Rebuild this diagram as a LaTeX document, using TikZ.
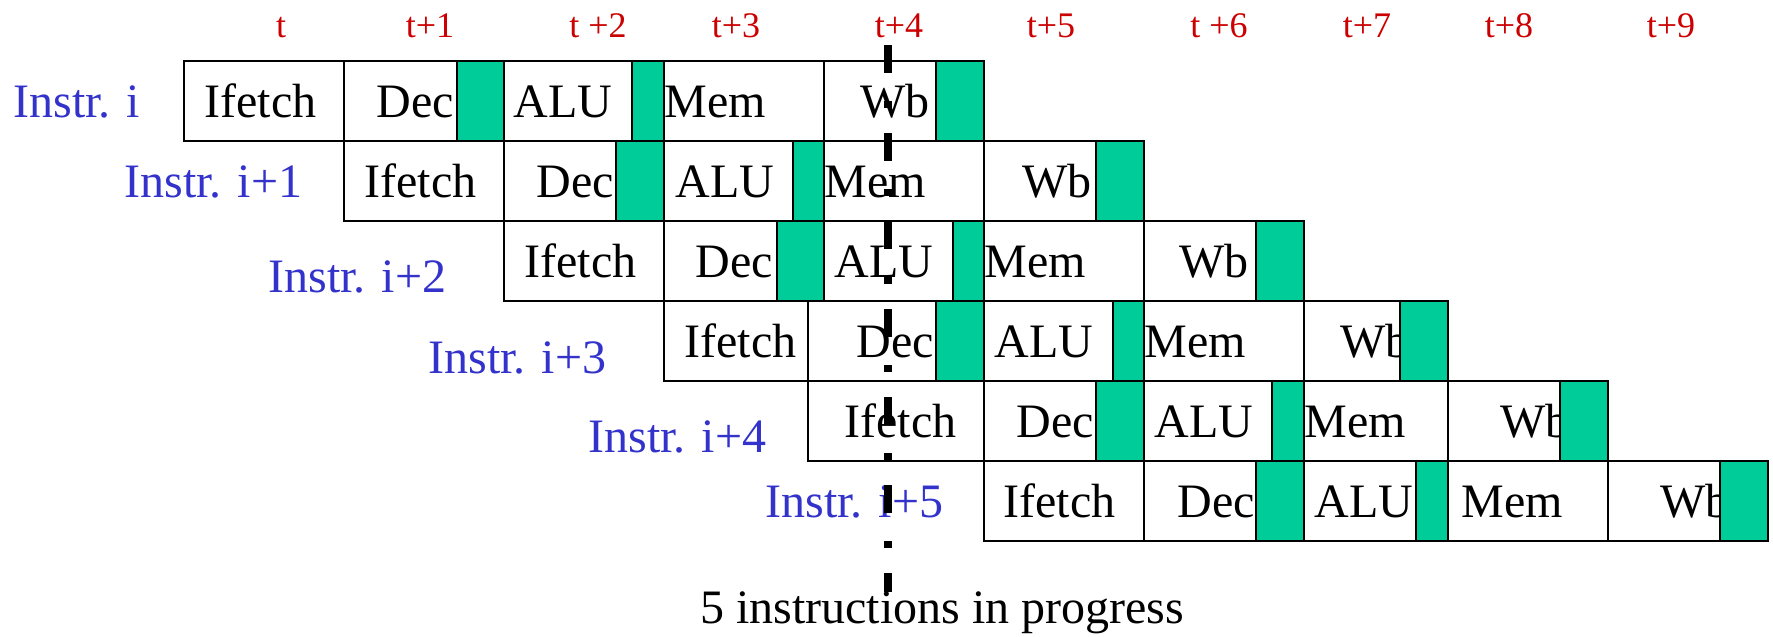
\documentclass[tikz,border=0pt]{standalone}
\usepackage{fontspec}
\setmainfont{Liberation Serif}
\definecolor{pgreen}{RGB}{0,204,153}
\definecolor{pblue}{RGB}{51,51,204}
\definecolor{pred}{RGB}{204,0,0}
\tikzset{
  stagebox/.style={draw=black,line width=1pt,inner sep=0pt,outer sep=0pt,minimum height=40pt},
  latchbox/.style={draw=black,line width=1pt,fill=pgreen,inner sep=0pt,outer sep=0pt,minimum height=40pt},
  stagetext/.style={anchor=base west,inner sep=0pt,font=\fontsize{24}{28}\selectfont},
  instrlabel/.style={anchor=base west,inner sep=0pt,text=pblue,font=\fontsize{24}{28}\selectfont},
  timelabel/.style={anchor=base,inner sep=0pt,text=pred,font=\fontsize{18}{22}\selectfont},
  notelabel/.style={anchor=base,inner sep=0pt,font=\fontsize{24}{28}\selectfont},
  nowline/.style={line width=4pt,dash pattern=on 14pt off 14pt on 3.5pt off 12.5pt}
}
\newcommand{\stg}[6]{%
  \pgfmathsetmacro{\bw}{(#3-#2)*0.5}%
  \node[stagebox,minimum width=\bw pt] (#1) at ({(#2+#3)/2},{#4+40}) {};
  \node[stagetext] (#1t) at (#6,{#4+56}) {#5};
}
\newcommand{\ltch}[4]{%
  \pgfmathsetmacro{\bw}{(#3-#2)*0.5}%
  \node[latchbox,minimum width=\bw pt] (#1) at ({(#2+#3)/2},{#4+40}) {};
}
\begin{document}
\begin{tikzpicture}[x=0.5pt,y=-0.5pt]
\useasboundingbox (0,0) rectangle (1773,637);
% time labels
\node[timelabel] (t0) at (281,37) {t};
\node[timelabel] (t1) at (430,37) {t+1};
\node[timelabel] (t2) at (598,37) {t +2};
\node[timelabel] (t3) at (736,37) {t+3};
\node[timelabel] (t4) at (899,37) {t+4};
\node[timelabel] (t5) at (1051,37) {t+5};
\node[timelabel] (t6) at (1219,37) {t +6};
\node[timelabel] (t7) at (1367,37) {t+7};
\node[timelabel] (t8) at (1509,37) {t+8};
\node[timelabel] (t9) at (1671,37) {t+9};
% instruction labels
\node[instrlabel] (i0) at (13,117) {Instr. i};
\node[instrlabel] (i1) at (124,197) {Instr. i+1};
\node[instrlabel] (i2) at (268,292) {Instr. i+2};
\node[instrlabel] (i3) at (428,373) {Instr. i+3};
\node[instrlabel] (i4) at (588,452) {Instr. i+4};
\node[instrlabel] (i5) at (765,517) {Instr. i+5};
% row 0
\stg{a0}{184}{344}{61}{Ifetch}{204}
\stg{a1}{344}{504}{61}{Dec}{376}
\stg{a2}{504}{664}{61}{ALU}{513}
\stg{a3}{664}{824}{61}{Mem}{664}
\stg{a4}{824}{984}{61}{Wb}{860}
\ltch{ag1}{457}{504}{61}
\ltch{ag2}{632}{664}{61}
\ltch{ag4}{936}{984}{61}
% row 1
\stg{b0}{344}{504}{141}{Ifetch}{364}
\stg{b1}{504}{664}{141}{Dec}{536}
\stg{b2}{664}{824}{141}{ALU}{675}
\stg{b3}{824}{984}{141}{Mem}{824}
\stg{b4}{984}{1144}{141}{Wb}{1022}
\ltch{bg1}{616}{664}{141}
\ltch{bg2}{793}{824}{141}
\ltch{bg4}{1096}{1144}{141}
% row 2
\stg{c0}{504}{664}{221}{Ifetch}{524}
\stg{c1}{664}{824}{221}{Dec}{695}
\stg{c2}{824}{984}{221}{ALU}{834}
\stg{c3}{984}{1144}{221}{Mem}{984}
\stg{c4}{1144}{1304}{221}{Wb}{1179}
\ltch{cg1}{777}{824}{221}
\ltch{cg2}{953}{984}{221}
\ltch{cg4}{1256}{1304}{221}
% row 3
\stg{d0}{664}{808}{301}{Ifetch}{684}
\stg{d1}{808}{984}{301}{Dec}{856}
\stg{d2}{984}{1144}{301}{ALU}{994}
\stg{d3}{1144}{1304}{301}{Mem}{1144}
\stg{d4}{1304}{1448}{301}{Wb}{1340}
\ltch{dg1}{936}{984}{301}
\ltch{dg2}{1113}{1144}{301}
\ltch{dg4}{1400}{1448}{301}
% row 4
\stg{e0}{808}{984}{381}{Ifetch}{844}
\stg{e1}{984}{1144}{381}{Dec}{1016}
\stg{e2}{1144}{1304}{381}{ALU}{1154}
\stg{e3}{1304}{1448}{381}{Mem}{1304}
\stg{e4}{1448}{1608}{381}{Wb}{1500}
\ltch{eg1}{1096}{1144}{381}
\ltch{eg2}{1272}{1304}{381}
\ltch{eg4}{1560}{1608}{381}
% row 5
\stg{f0}{984}{1144}{461}{Ifetch}{1003}
\stg{f1}{1144}{1304}{461}{Dec}{1177}
\stg{f2}{1304}{1448}{461}{ALU}{1314}
\stg{f3}{1448}{1608}{461}{Mem}{1461}
\stg{f4}{1608}{1768}{461}{Wb}{1660}
\ltch{fg1}{1256}{1304}{461}
\ltch{fg2}{1416}{1448}{461}
\ltch{fg4}{1720}{1768}{461}
% note
\node[notelabel] (note) at (942,623) {5 instructions in progress};
% current-time line
\coordinate (nowtop) at (888,45);
\coordinate (nowbot) at (888,592);
\draw[nowline] (nowtop) -- (nowbot);
\end{tikzpicture}
\end{document}
